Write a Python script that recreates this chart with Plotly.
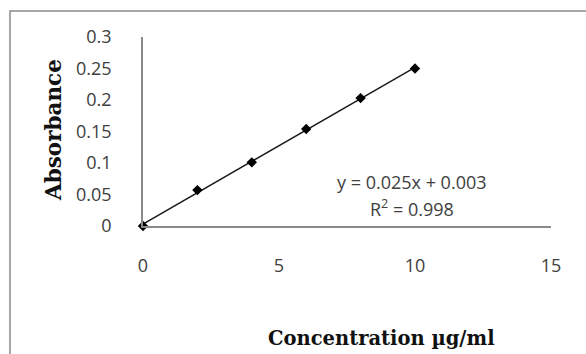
import numpy as np
import plotly.graph_objects as go

# ---- data ----
concentration = [0, 2, 4, 6, 8, 10]
absorbance = [0.0, 0.057, 0.101, 0.154, 0.203, 0.250]
x_tick_values = [0, 5, 10, 15]
x_tick_labels = ["0", "5", "10", "15"]
y_tick_values = [0, 0.05, 0.1, 0.15, 0.2, 0.25, 0.3]
y_tick_labels = ["0", "0.05", "0.1", "0.15", "0.2", "0.25", "0.3"]
x_title = "Concentration µg/ml"
y_title = "Absorbance"
equation_text = "y = 0.025x + 0.003"
r2_text = "R<sup>2</sup> = 0.998"

# ---- layout geometry (pixels) ----
W, H = 586, 354
L, R, T, B = 143, 35, 37, 128
PW, PH = W - L - R, H - T - B


def px(x):
    return (x - L) / PW


def py(y):
    return (H - B - y) / PH


# linear trendline fitted to the data
slope, intercept = np.polyfit(concentration, absorbance, 1)
fit_x = [min(concentration), max(concentration)]
fit_y = [slope * v + intercept for v in fit_x]

fig = go.Figure()
fig.add_trace(go.Scatter(
    x=fit_x, y=fit_y, mode="lines",
    line=dict(color="#1a1a1a", width=1.5),
    hoverinfo="skip", showlegend=False, cliponaxis=False,
))
fig.add_trace(go.Scatter(
    x=concentration, y=absorbance, mode="markers",
    marker=dict(symbol="diamond", size=8, color="black"),
    showlegend=False, cliponaxis=False,
))

tick_font = dict(family="Open Sans, sans-serif", size=18, color="#404040")
axis_color = "#8a8a8a"

fig.update_xaxes(
    range=[0, 15], tickvals=x_tick_values, ticktext=x_tick_labels,
    showline=True, linecolor=axis_color, linewidth=1.5,
    showgrid=False, zeroline=False, ticks="", tickfont=tick_font,
    ticklabelstandoff=23,
)
fig.update_yaxes(
    range=[0, 0.3], tickvals=y_tick_values, ticktext=y_tick_labels,
    showline=True, linecolor=axis_color, linewidth=1.5,
    showgrid=False, zeroline=False, ticks="", tickfont=tick_font,
    ticklabelstandoff=26,
)

title_font = dict(family="DejaVu Serif, serif", size=19.5, color="#111111")
annotations = [
    dict(text="<b>" + y_title + "</b>", x=px(53), y=py(130), xref="paper", yref="paper",
         textangle=-90, showarrow=False, font=dict(title_font, size=21.5),
         xanchor="center", yanchor="middle"),
    dict(text="<b>" + x_title + "</b>", x=px(381), y=py(338), xref="paper", yref="paper",
         showarrow=False, font=title_font, xanchor="center", yanchor="middle"),
    dict(text=equation_text, x=px(412), y=py(182), xref="paper", yref="paper",
         showarrow=False, font=tick_font, xanchor="center", yanchor="middle"),
    dict(text=r2_text, x=px(412), y=py(208), xref="paper", yref="paper",
         showarrow=False, font=tick_font, xanchor="center", yanchor="middle"),
]

fig.update_layout(
    width=W, height=H,
    margin=dict(l=L, r=R, t=T, b=B, pad=0),
    paper_bgcolor="white", plot_bgcolor="white",
    annotations=annotations,
    shapes=[dict(type="rect", xref="paper", yref="paper",
                 x0=px(10), x1=px(600), y0=py(370), y1=py(11),
                 line=dict(color="#8a8a8a", width=1.5), fillcolor="rgba(0,0,0,0)",
                 layer="below")],
)

fig.write_html(
    "out.html",
    config={"displayModeBar": False},
    post_script="document.body.style.margin='0';document.body.style.overflow='hidden';",
)
